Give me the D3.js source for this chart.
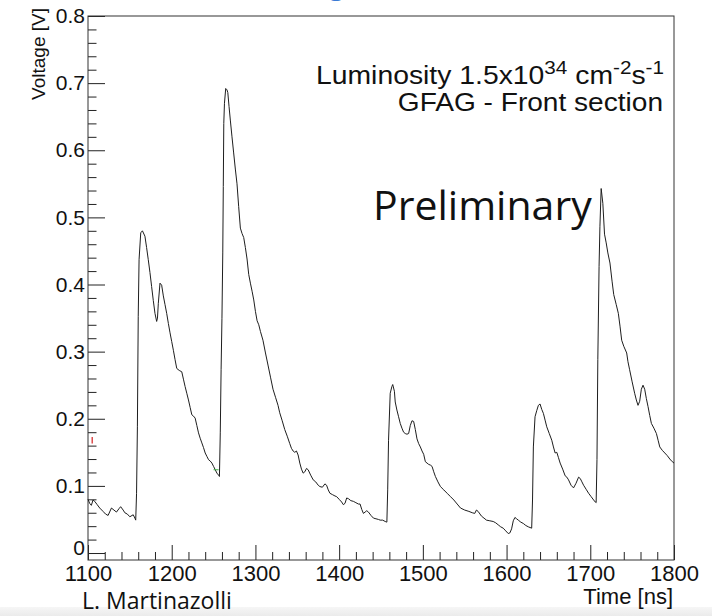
<!DOCTYPE html>
<html>
<head>
<meta charset="utf-8">
<script src="https://cdn.jsdelivr.net/npm/d3@7"></script>
<style>
  html, body { margin: 0; padding: 0; background: #fff; }
  svg { display: block; }
  .axis text { font-family: "Liberation Sans", Arial, sans-serif; font-size: 21px; fill: #111; }
  .axis line { stroke: #222; stroke-width: 1; }
  .axis path { display: none; }
</style>
</head>
<body>
<svg id="chart" width="712" height="616"></svg>
<script>
// Waveform samples: time in ns, amplitude in V
const timeNs = [
  1100,1102,1104,1106,1108,1111,1114,1118,1121,1124,1128,1131,1134,1137,1139,1142,1144,1147,1150,1154,1156,1157,
  1158,1159,1160,1161,1163,1165,1168,1170,1172,1174,1176,1178,1180,1182,1183,1184,1186,1188,1190,1192,1194,1196,1198,
  1200,1202,1204,1206,1209,1212,1214,1216,1218,1220,1222,1224,1226,1228,1230,1232,1234,1236,1238,1240,1242,1244,1246,
  1248,1250,1252,1254,1256,1257,1258,1259,1260,1261,1261.6,1262.2,1263,1264.5,1266,1267,1268.5,1270,1272,1274,1276,
  1278,1280,1282,1284,1286,1288,1290,1292,1294,1296,1298,1300,1302,1304,1306,1309,1312,1315,1318,1321,1324,1327,1329,
  1332,1335,1338,1341,1343,1345,1347,1349,1351,1353,1355,1357,1359,1361,1363,1366,1369,1372,1375,1377,1380,1383,1385,
  1387,1389,1392,1395,1397,1400,1403,1405,1407,1409,1411,1414,1417,1420,1423,1425,1427,1429,1431,1433,1435,1438,1441,
  1444,1447,1449,1452,1455,1457,1458,1459,1461,1463,1464,1466,1467,1469,1471,1473,1475,1477,1479,1481,1483,1485,1487,
  1489,1491,1493,1495,1497,1499,1501,1503,1505,1507,1509,1511,1513,1515,1518,1521,1525,1529,1533,1537,1541,1545,1550,
  1555,1559,1562,1564,1566,1570,1573,1576,1580,1584,1587,1590,1593,1596,1599,1602,1604,1606,1608,1610,1612,1614,1617,
  1620,1623,1626,1628,1630,1631,1632,1634,1636,1638,1640,1642,1644,1646,1648,1651,1654,1656,1658,1660,1662,1664,1667,
  1670,1672,1674,1677,1680,1683,1686,1688,1690,1692,1695,1698,1701,1704,1706,1707,1708,1709,1710.5,1711.5,1713,1715,
  1717,1719,1721,1723.5,1726,1728,1731,1733.5,1735.5,1737.5,1740,1743.5,1745,1747,1750,1753,1755,1757,1759,1761,1763,
  1765,1767,1769,1771,1773,1776,1779,1781,1783,1786,1789,1792,1795,1798,1800
];
const voltageV = [
  0.080,0.074,0.071,0.079,0.077,0.072,0.067,0.062,0.058,0.056,0.067,0.064,0.061,0.066,0.069,0.064,0.060,0.058,0.054,0.057,0.052,0.049,
  0.089,0.188,0.352,0.437,0.477,0.480,0.472,0.455,0.437,0.418,0.397,0.376,0.357,0.345,0.350,0.372,0.402,0.399,0.383,0.370,0.357,0.342,0.328,
  0.315,0.302,0.288,0.275,0.272,0.270,0.259,0.248,0.238,0.228,0.217,0.206,0.204,0.201,0.190,0.179,0.171,0.164,0.157,0.149,0.144,0.139,0.137,
  0.134,0.129,0.124,0.119,0.116,0.114,0.179,0.273,0.349,0.447,0.546,0.640,0.670,0.692,0.690,0.686,0.665,0.645,0.620,0.596,0.572,
  0.550,0.516,0.484,0.476,0.470,0.455,0.438,0.415,0.402,0.390,0.377,0.360,0.346,0.340,0.330,0.317,0.298,0.280,0.262,0.244,0.232,0.220,0.209,
  0.197,0.184,0.174,0.163,0.156,0.152,0.150,0.152,0.146,0.134,0.125,0.119,0.121,0.126,0.124,0.116,0.109,0.106,0.101,0.099,0.098,0.103,0.101,
  0.094,0.089,0.087,0.085,0.084,0.080,0.076,0.072,0.074,0.082,0.081,0.078,0.077,0.075,0.073,0.073,0.065,0.059,0.061,0.063,0.061,0.056,0.052,
  0.051,0.050,0.049,0.049,0.047,0.046,0.094,0.168,0.238,0.248,0.251,0.241,0.225,0.213,0.203,0.193,0.186,0.180,0.178,0.177,0.178,0.190,0.197,
  0.196,0.184,0.170,0.163,0.158,0.152,0.147,0.136,0.134,0.132,0.131,0.129,0.121,0.114,0.106,0.099,0.094,0.089,0.084,0.079,0.073,0.067,0.064,
  0.062,0.060,0.059,0.064,0.062,0.055,0.052,0.049,0.048,0.047,0.045,0.042,0.039,0.037,0.033,0.029,0.030,0.036,0.048,0.053,0.051,0.049,0.046,
  0.044,0.041,0.039,0.038,0.037,0.079,0.158,0.203,0.212,0.220,0.222,0.214,0.208,0.198,0.188,0.178,0.168,0.158,0.149,0.150,0.142,0.134,0.125,
  0.115,0.113,0.109,0.101,0.097,0.104,0.113,0.111,0.106,0.101,0.095,0.089,0.084,0.079,0.076,0.075,0.139,0.288,0.427,0.486,0.543,0.521,
  0.475,0.462,0.447,0.432,0.405,0.385,0.370,0.357,0.338,0.317,0.308,0.298,0.285,0.273,0.255,0.238,0.228,0.220,0.226,0.244,0.250,
  0.244,0.230,0.218,0.205,0.193,0.186,0.178,0.168,0.158,0.153,0.149,0.145,0.140,0.136,0.134
];

// Two tiny stray segments from the other traces
const greenTime = [1250, 1256];
const greenVolt = [0.124, 0.124];
const redTime = [1105, 1105];
const redVolt = [0.163, 0.173];

// Axis ticks
const xMajor = [1100, 1200, 1300, 1400, 1500, 1600, 1700, 1800];
const xMinor = d3.range(1100, 1801, 20).filter(v => v % 100 !== 0);
const yMajor = [0, 0.1, 0.2, 0.3, 0.4, 0.5, 0.6, 0.7, 0.8];
const yMinor = d3.range(0, 41).map(i => i * 0.02).filter(v => Math.round(v * 100) % 10 !== 0);

const svg = d3.select("#chart");

// Plot frame
const frameL = 88, frameR = 674, frameT = 16, frameB = 560;
const x = d3.scaleLinear().domain([1100, 1800]).range([frameL, frameR]);
const y = d3.scaleLinear().domain([-0.0104, 0.8]).range([frameB, frameT]);

// Light band at the very bottom
const grad = svg.append("defs").append("linearGradient")
  .attr("id", "band").attr("x1", 0).attr("y1", 0).attr("x2", 0).attr("y2", 1);
grad.append("stop").attr("offset", "0%").attr("stop-color", "#f6f6f6");
grad.append("stop").attr("offset", "100%").attr("stop-color", "#ebebeb");
svg.append("rect").attr("x", 0).attr("y", 607).attr("width", 712).attr("height", 9)
  .attr("fill", "url(#band)");

// Descender of the page heading, cut by the top edge
svg.append("text").attr("x", 329).attr("y", -6)
  .attr("font-family", "Open Sans, sans-serif").attr("font-size", 28)
  .attr("fill", "#3a7bd5").text("g");

// Axes (ticks drawn inside the frame)
const gx = svg.append("g").attr("class", "axis").attr("transform", `translate(0,${frameB})`);
gx.call(d3.axisBottom(x).tickValues(xMajor).tickSize(-15).tickPadding(5).tickFormat(d3.format("d")));
gx.selectAll("text").style("font-size", "22px");
svg.append("g").attr("class", "axis").attr("transform", `translate(0,${frameB})`)
  .call(d3.axisBottom(x).tickValues(xMinor).tickSize(-8).tickFormat(""));

const gy = svg.append("g").attr("class", "axis").attr("transform", `translate(${frameL},0)`);
gy.call(d3.axisLeft(y).tickValues(yMajor).tickSize(-17).tickPadding(3)
  .tickFormat(d => d === 0 ? "0" : d3.format(".1f")(d)));
gy.selectAll(".tick").filter(d => d === 0).select("text").attr("dy", "0.05em");
svg.append("g").attr("class", "axis").attr("transform", `translate(${frameL},0)`)
  .call(d3.axisLeft(y).tickValues(yMinor).tickSize(-8.5).tickFormat(""));

// Frame box
svg.append("rect").attr("x", frameL).attr("y", frameT)
  .attr("width", frameR - frameL).attr("height", frameB - frameT)
  .attr("fill", "none").attr("stroke", "#333").attr("stroke-width", 1);

// Waveform
const pts = timeNs.map((t, i) => [t, voltageV[i]]);
const line = d3.line().x(d => x(d[0])).y(d => y(d[1]));
svg.append("path").datum(pts).attr("d", line)
  .attr("fill", "none").attr("stroke", "#1e1e1e").attr("stroke-width", 1)
  .attr("stroke-linejoin", "round");

svg.append("path").datum(greenTime.map((t, i) => [t, greenVolt[i]])).attr("d", line)
  .attr("fill", "none").attr("stroke", "#3cb043").attr("stroke-width", 1);
svg.append("path").datum(redTime.map((t, i) => [t, redVolt[i]])).attr("d", line)
  .attr("fill", "none").attr("stroke", "#d42020").attr("stroke-width", 1.2);

// Axis titles
svg.append("text")
  .attr("transform", "translate(45,8) rotate(-90)")
  .attr("text-anchor", "end")
  .attr("font-family", "Liberation Sans, Arial, sans-serif").attr("font-size", 19).attr("fill", "#111")
  .text("Voltage [V]");
svg.append("text")
  .attr("x", frameR - 1).attr("y", 604).attr("text-anchor", "end")
  .attr("font-family", "Liberation Sans, Arial, sans-serif").attr("font-size", 22).attr("fill", "#111")
  .text("Time [ns]");

// Run conditions (right-aligned, slightly widened)
const info = svg.append("g").attr("font-family", "Liberation Sans, Arial, sans-serif")
  .attr("font-size", 26).attr("fill", "#111").attr("text-anchor", "end");
const l1 = info.append("text").attr("transform", "translate(664,84) scale(1.09,1)");
l1.append("tspan").text("Luminosity 1.5x10");
l1.append("tspan").attr("baseline-shift", "10px").attr("font-size", 19).text("34");
l1.append("tspan").text(" cm");
l1.append("tspan").attr("baseline-shift", "10px").attr("font-size", 19).text("-2");
l1.append("tspan").text("s");
l1.append("tspan").attr("baseline-shift", "10px").attr("font-size", 19).text("-1");
info.append("text").attr("transform", "translate(663,111) scale(1.08,1)").text("GFAG - Front section");

svg.append("text").attr("x", 373).attr("y", 220)
  .attr("font-family", "Open Sans, sans-serif").attr("font-size", 41).attr("fill", "#111")
  .text("Preliminary");

svg.append("text").attr("x", 82).attr("y", 609)
  .attr("font-family", "Open Sans, sans-serif").attr("font-size", 23).attr("fill", "#111")
  .text("L. Martinazolli");
</script>
</body>
</html>
